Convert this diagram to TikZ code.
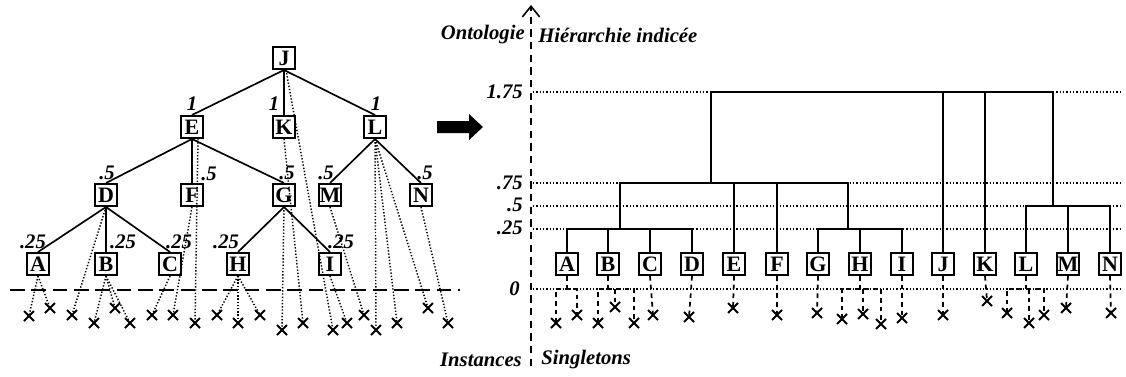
\documentclass[tikz,border=0pt]{standalone}
\usepackage{fontspec}
\setmainfont{Liberation Serif}
\usetikzlibrary{shapes.misc,calc,arrows.meta}
\begin{document}
\begin{tikzpicture}[x=0.75pt,y=-0.75pt,
  box/.style={draw,line width=1.5pt,minimum width=16.5pt,minimum height=16.5pt,inner sep=0pt,font=\fontsize{16.5}{16.5}\selectfont\bfseries},
  lbl/.style={font=\fontsize{15.5}{15.5}\selectfont\bfseries\itshape,inner sep=0pt},
  edge/.style={line width=1.25pt},
  dot/.style={line width=1.1pt,dash pattern=on 1pt off 1.4pt},
  lvl/.style={line width=1pt,dash pattern=on 1pt off 1.5pt},
  dsh/.style={line width=1.3pt,dash pattern=on 3.5pt off 3pt},
  xm/.style={cross out,draw,line width=1.5pt,minimum size=6pt,inner sep=0pt},
]
\useasboundingbox (0,0) rectangle (1126,376);

% ---------------- left tree ----------------
\node[box] (J) at (284,58) {J};
\node[box] (E) at (192,127) {E};
\node[box] (K) at (284,127) {K};
\node[box] (L) at (375,127) {L};
\node[box] (D) at (106,195) {D};
\node[box] (F) at (192,195) {F};
\node[box] (G) at (284,195) {G};
\node[box] (M) at (330,195) {M};
\node[box] (N) at (421,195) {N};
\node[box] (A) at (38,264) {A};
\node[box] (B) at (106,264) {B};
\node[box] (C) at (170,264) {C};
\node[box] (H) at (238,264) {H};
\node[box] (I) at (330,264) {I};

\draw[edge] (J.south) -- (E.north);
\draw[edge] (J.south) -- (K.north);
\draw[edge] (J.south) -- (L.north);
\draw[edge] (E.south) -- (D.north);
\draw[edge] (E.south) -- (F.north);
\draw[edge] (E.south) -- (G.north);
\draw[edge] (L.south) -- (M.north);
\draw[edge] (L.south) -- (N.north);
\draw[edge] (D.south) -- (A.north);
\draw[edge] (D.south) -- (B.north);
\draw[edge] (D.south) -- (C.north);
\draw[edge] (G.south) -- (H.north);
\draw[edge] (G.south) -- (I.north);

\node[lbl] (lE) at (192,104) {1};
\node[lbl] (lK) at (274,104) {1};
\node[lbl] (lL) at (376,104) {1};
\node[lbl] (lD) at (107,173) {.5};
\node[lbl] (lF) at (209,174) {.5};
\node[lbl] (lG) at (287,173) {.5};
\node[lbl] (lM) at (326,173) {.5};
\node[lbl] (lN) at (425,173) {.5};
\node[lbl] (lA) at (33,242) {.25};
\node[lbl] (lB) at (123,242) {.25};
\node[lbl] (lC) at (179,242) {.25};
\node[lbl] (lH) at (226,242) {.25};
\node[lbl] (lI) at (341,242) {.25};

\draw[line width=1.3pt,dash pattern=on 11pt off 5pt] (10,290) -- (460,290);

\node[xm] (cA1) at (29,316) {};
\node[xm] (cA2) at (50,308) {};
\node[xm] (cD) at (72,315) {};
\node[xm] (cB1) at (94,323) {};
\node[xm] (cB2) at (115,308) {};
\node[xm] (cB3) at (130,323) {};
\node[xm] (cC) at (152,315) {};
\node[xm] (cF) at (173,315) {};
\node[xm] (cE) at (195,323) {};
\node[xm] (cH1) at (217,315) {};
\node[xm] (cH2) at (238,323) {};
\node[xm] (cH3) at (260,315) {};
\node[xm] (cG) at (282,330) {};
\node[xm] (cK) at (303,323) {};
\node[xm] (cJ) at (333,330) {};
\node[xm] (cI) at (347,323) {};
\node[xm] (cM) at (364,315) {};
\node[xm] (cL1) at (376,330) {};
\node[xm] (cL2) at (397,323) {};
\node[xm] (cL3) at (428,308) {};
\node[xm] (cN) at (448,323) {};

\draw[dot] (A.south) -- (cA1.center);
\draw[dot] (A.south) -- (cA2.center);
\draw[dot] (D.south) -- (cD.center);
\draw[dot] (B.south) -- (cB1.center);
\draw[dot] (B.south) -- (cB2.center);
\draw[dot] (B.south) -- (cB3.center);
\draw[dot] (C.south) -- (cC.center);
\draw[dot] (F.south) -- (cF.center);
\draw[dot] ($(E.south)+(6,0)$) -- (cE.center);
\draw[dot] (H.south) -- (cH1.center);
\draw[dot] (H.south) -- (cH2.center);
\draw[dot] (H.south) -- (cH3.center);
\draw[dot] (G.south) -- (cG.center);
\draw[dot] (K.south) -- (cK.center);
\draw[dot] ($(J.south)+(2,0)$) -- (cJ.center);
\draw[dot] (I.south) -- (cI.center);
\draw[dot] (M.south) -- (cM.center);
\draw[dot] (L.south) -- (cL1.center);
\draw[dot] (L.south) -- (cL2.center);
\draw[dot] (L.south) -- (cL3.center);
\draw[dot] (N.south) -- (cN.center);

% ---------------- big arrow ----------------
\fill (437,121) -- (469,121) -- (469,114) -- (483,127) -- (469,140) -- (469,133) -- (437,133) -- cycle;

% ---------------- axis ----------------
\coordinate (axB) at (531,366);
\coordinate (axT) at (531,5);
\draw[line width=1.3pt,dash pattern=on 5.5pt off 4pt,-{Straight Barb[length=8pt,width=13pt,line width=1.2pt]}] (axB) -- (axT);
\node[lbl,anchor=east] (t1) at (525,35) {Ontologie};
\node[lbl,anchor=west] (t2) at (538,35) {Hiérarchie indicée};
\node[lbl,anchor=east] (t3) at (522,360) {Instances};
\node[lbl,anchor=west] (t4) at (541,360) {Singletons};

% level lines and labels
\coordinate (lev175) at (0,92);
\coordinate (lev75) at (0,183);
\coordinate (lev5) at (0,206);
\coordinate (lev25) at (0,229);
\coordinate (lev0) at (0,289);
\foreach \y in {92,183,206,229,289} \draw[lvl] (533,\y) -- (1121,\y);
\node[lbl,anchor=east] (v175) at (523,92) {1.75};
\node[lbl,anchor=east] (v75) at (523,183) {.75};
\node[lbl,anchor=east] (v5) at (523,205) {.5};
\node[lbl,anchor=east] (v25) at (523,228) {.25};
\node[lbl,anchor=east] (v0) at (520,289) {0};

% ---------------- dendrogram ----------------
\node[box,fill=white] (rA) at (567,264) {A};
\node[box,fill=white] (rB) at (608,264) {B};
\node[box,fill=white] (rC) at (650,264) {C};
\node[box,fill=white] (rD) at (692,264) {D};
\node[box,fill=white] (rE) at (734,264) {E};
\node[box,fill=white] (rF) at (777,264) {F};
\node[box,fill=white] (rG) at (818,264) {G};
\node[box,fill=white] (rH) at (860,264) {H};
\node[box,fill=white] (rI) at (902,264) {I};
\node[box,fill=white] (rJ) at (943,264) {J};
\node[box,fill=white] (rK) at (985,264) {K};
\node[box,fill=white] (rL) at (1026,264) {L};
\node[box,fill=white] (rM) at (1068,264) {M};
\node[box,fill=white] (rN) at (1110,264) {N};

\coordinate (gABCD) at (620,229);
\coordinate (gGHI) at (848,229);
\coordinate (gTop) at (711,183);
\coordinate (gLMN) at (1053,206);

\draw[edge] (rA.north) -- (rA.north |- lev25) -- (rD.north |- lev25) -- (rD.north);
\draw[edge] (rB.north) -- (rB.north |- lev25);
\draw[edge] (rC.north) -- (rC.north |- lev25);
\draw[edge] (rG.north) -- (rG.north |- lev25) -- (rI.north |- lev25) -- (rI.north);
\draw[edge] (rH.north) -- (rH.north |- lev25);
\draw[edge] (rL.north) -- (rL.north |- lev5) -- (rN.north |- lev5) -- (rN.north);
\draw[edge] (rM.north) -- (rM.north |- lev5);
\draw[edge] (gABCD) -- (gABCD |- lev75) -- (gGHI |- lev75) -- (gGHI);
\draw[edge] (rE.north) -- (rE.north |- lev75);
\draw[edge] (rF.north) -- (rF.north |- lev75);
\draw[edge] (gTop) -- (gTop |- lev175) -- (gLMN |- lev175) -- (gLMN);
\draw[edge] (rJ.north) -- (rJ.north |- lev175);
\draw[edge] (rK.north) -- (rK.north |- lev175);

% singletons
\node[xm] (xA1) at (556,323) {};
\node[xm] (xA2) at (577,315) {};
\node[xm] (xB1) at (598,323) {};
\node[xm] (xB2) at (615,307) {};
\node[xm] (xB3) at (634,323) {};
\node[xm] (xC) at (653,315) {};
\node[xm] (xD) at (689,317) {};
\node[xm] (xE) at (733,308) {};
\node[xm] (xF) at (777,315) {};
\node[xm] (xG) at (817,313) {};
\node[xm] (xH1) at (842,319) {};
\node[xm] (xH2) at (863,314) {};
\node[xm] (xH3) at (881,324) {};
\node[xm] (xI) at (902,318) {};
\node[xm] (xJ) at (943,315) {};
\node[xm] (xK) at (987,301) {};
\node[xm] (xL1) at (1007,313) {};
\node[xm] (xL2) at (1029,323) {};
\node[xm] (xL3) at (1044,315) {};
\node[xm] (xM) at (1066,308) {};
\node[xm] (xN) at (1111,313) {};

\draw[dsh] (rA.south) -- (rA.south |- lev0);
\draw[dsh] (xA1.center) -- (xA1 |- lev0) -- (xA2 |- lev0) -- (xA2.center);
\draw[dsh] (rB.south) -- (rB.south |- lev0);
\draw[dsh] (xB1.center) -- (xB1 |- lev0) -- (xB3 |- lev0) -- (xB3.center);
\draw[dsh] (xB2 |- lev0) -- (xB2.center);
\draw[dsh] (rH.south) -- (rH.south |- lev0);
\draw[dsh] (xH1.center) -- (xH1 |- lev0) -- (xH3 |- lev0) -- (xH3.center);
\draw[dsh] (xH2 |- lev0) -- (xH2.center);
\draw[dsh] (rL.south) -- (rL.south |- lev0);
\draw[dsh] (xL1.center) -- (xL1 |- lev0) -- (xL3 |- lev0) -- (xL3.center);
\draw[dsh] (xL2 |- lev0) -- (xL2.center);
\draw[dsh] (rC.south) -- (xC.center);
\draw[dsh] (rD.south) -- (xD.center);
\draw[dsh] (rE.south) -- (xE.center);
\draw[dsh] (rF.south) -- (xF.center);
\draw[dsh] (rG.south) -- (xG.center);
\draw[dsh] (rI.south) -- (xI.center);
\draw[dsh] (rJ.south) -- (xJ.center);
\draw[dsh] (rK.south) -- (xK.center);
\draw[dsh] (rM.south) -- (xM.center);
\draw[dsh] (rN.south) -- (xN.center);
\end{tikzpicture}
\end{document}
